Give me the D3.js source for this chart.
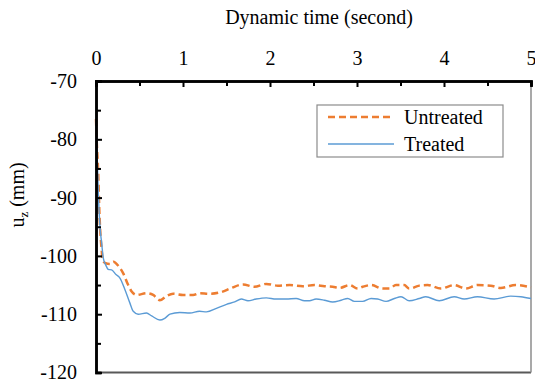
<!DOCTYPE html>
<html>
<head>
<meta charset="utf-8">
<script src="https://cdn.jsdelivr.net/npm/d3@7"></script>
<style>
    body { margin: 0; background: #fff; }
</style>
</head>
<body>
<div id="chart"></div>
<script>
// values
var treatedTime = [0, 0.015, 0.027, 0.046, 0.065, 0.084, 0.11, 0.141, 0.18, 0.23, 0.275, 0.333, 0.39, 0.428, 0.485,
    0.58, 0.64, 0.734, 0.79, 0.85, 0.963, 1.08, 1.19, 1.27, 1.384, 1.5, 1.594, 1.67, 1.747, 1.84, 1.958, 2.07,
    2.187, 2.3, 2.397, 2.454, 2.53, 2.626, 2.72, 2.818, 2.893, 2.97, 3.065, 3.162, 3.237, 3.334, 3.43, 3.506,
    3.6, 3.716, 3.79, 3.945, 4.117, 4.232, 4.384, 4.576, 4.767, 4.882, 5.0];
var treatedUz = [-76.7, -83.6, -89.3, -95.0, -97.8, -100.4, -101.5, -102.3, -102.4, -103.2, -103.8, -105.8, -108.1, -109.5, -110.0,
    -109.8, -110.3, -111.0, -110.7, -110.0, -109.7, -109.8, -109.5, -109.6, -109.0, -108.3, -107.9, -107.4, -107.7, -107.4, -107.2, -107.4,
    -107.4, -107.3, -107.7, -107.7, -107.4, -107.6, -107.9, -107.6, -107.3, -107.8, -107.8, -107.3, -107.4, -107.8, -107.3, -107.0,
    -107.7, -107.3, -107.0, -107.7, -107.0, -107.4, -107.0, -107.4, -106.9, -107.0, -107.3];

var untreatedTime = [0, 0.008, 0.027, 0.038, 0.065, 0.077, 0.103, 0.16, 0.2, 0.256, 0.313, 0.37, 0.41, 0.467, 0.58,
    0.657, 0.734, 0.81, 0.886, 1.0, 1.116, 1.19, 1.307, 1.44, 1.556, 1.69, 1.82, 1.957, 2.09, 2.225, 2.377,
    2.511, 2.626, 2.72, 2.8, 2.913, 3.008, 3.065, 3.162, 3.295, 3.372, 3.448, 3.543, 3.6, 3.716, 3.81, 3.964,
    4.117, 4.251, 4.384, 4.537, 4.652, 4.824, 5.0];
var untreatedUz = [-76.5, -80.1, -86.4, -92.0, -99.0, -100.7, -101.2, -101.4, -101.0, -101.7, -103.0, -105.0, -106.1, -106.7, -106.4,
    -106.7, -107.6, -106.9, -106.5, -106.7, -106.7, -106.4, -106.5, -106.2, -105.5, -104.9, -105.3, -104.8, -105.1, -105.0, -105.2,
    -105.0, -105.2, -105.3, -105.5, -105.0, -105.6, -105.3, -105.0, -105.6, -105.6, -105.0, -105.0, -105.6, -105.1, -105.0, -105.6,
    -105.0, -105.6, -105.0, -105.1, -105.5, -105.0, -105.4];

var xMajor = [0, 1, 2, 3, 4, 5];
var xMinor = [0.5, 1.5, 2.5, 3.5, 4.5];
var yMajor = [-70, -80, -90, -100, -110, -120];
var yMinor = [-75, -85, -95, -105, -115];

var seriesNames = ["Untreated", "Treated"];
var seriesColors = ["#ED7D31", "#5B9BD5"];

var serif = "Liberation Serif, Tinos, Times New Roman, Times, Nimbus Roman, Nimbus Roman No9 L, FreeSerif, Noto Serif, DejaVu Serif, serif";

var chart = {
    w: 535,
    h: 385,
    left: 96,
    right: 531,
    top: 81,
    bottom: 372.5
};

chart.svg = d3.select("#chart")
    .append("svg")
    .attr("width", chart.w)
    .attr("height", chart.h)
    .style("font-family", serif);

chart.xScale = d3.scaleLinear()
    .domain([0, 5])
    .range([chart.left, chart.right]);

chart.yScale = d3.scaleLinear()
    .domain([-70, -120])
    .range([chart.top, chart.bottom]);

// right + bottom frame lines (grey)
chart.svg.append("line")
    .attr("x1", chart.left).attr("x2", chart.right)
    .attr("y1", chart.bottom).attr("y2", chart.bottom)
    .attr("stroke", "#595959").attr("stroke-width", 2);
chart.svg.append("line")
    .attr("x1", chart.right).attr("x2", chart.right)
    .attr("y1", chart.top).attr("y2", chart.bottom)
    .attr("stroke", "#8c8c8c").attr("stroke-width", 1.5);

// data lines
var line = d3.line()
    .x(function (d) { return chart.xScale(d[0]); })
    .y(function (d) { return chart.yScale(d[1]); })
    .curve(d3.curveMonotoneX);

chart.svg.append("path")
    .datum(d3.zip(untreatedTime, untreatedUz))
    .attr("fill", "none")
    .attr("stroke", seriesColors[0])
    .attr("stroke-width", 2.5)
    .attr("stroke-dasharray", "7,4")
    .attr("d", line);

chart.svg.append("path")
    .datum(d3.zip(treatedTime, treatedUz))
    .attr("fill", "none")
    .attr("stroke", seriesColors[1])
    .attr("stroke-width", 1.4)
    .attr("d", line);

// plain hyphen minus like the original, not the unicode minus
function plainNum(d) {
    return String(d);
}

// top x axis, ticks pointing inward
var xAxis = d3.axisTop(chart.xScale)
    .tickValues(xMajor)
    .tickSize(-6)
    .tickPadding(16)
    .tickFormat(plainNum);
var xAxisMinor = d3.axisTop(chart.xScale)
    .tickValues(xMinor)
    .tickSize(-5)
    .tickFormat("");

chart.svg.append("g")
    .attr("transform", "translate(0," + chart.top + ")")
    .call(xAxisMinor);
chart.svg.append("g")
    .attr("class", "x axis")
    .attr("transform", "translate(0," + chart.top + ")")
    .call(xAxis);

// left y axis
var yAxis = d3.axisLeft(chart.yScale)
    .tickValues(yMajor)
    .tickSize(-6)
    .tickPadding(19)
    .tickFormat(plainNum);
var yAxisMinor = d3.axisLeft(chart.yScale)
    .tickValues(yMinor)
    .tickSize(-5)
    .tickFormat("");

chart.svg.append("g")
    .attr("transform", "translate(" + chart.left + ",0)")
    .call(yAxisMinor);
chart.svg.append("g")
    .attr("class", "y axis")
    .attr("transform", "translate(" + chart.left + ",0)")
    .call(yAxis);

chart.svg.selectAll("g")
    .attr("font-family", null);
chart.svg.selectAll(".domain")
    .attr("stroke", "#000")
    .attr("stroke-width", 2.5);
chart.svg.selectAll(".tick line")
    .attr("stroke", "#000")
    .attr("stroke-width", 2);
chart.svg.selectAll(".tick text")
    .attr("font-size", 20)
    .attr("fill", "#000");

// axis titles
chart.svg.append("text")
    .attr("x", 319)
    .attr("y", 24)
    .attr("text-anchor", "middle")
    .attr("font-size", 20)
    .text("Dynamic time (second)");

var yTitle = chart.svg.append("text")
    .attr("transform", "translate(24,195) rotate(-90)")
    .attr("text-anchor", "middle")
    .attr("font-size", 20);
yTitle.append("tspan").text("u");
yTitle.append("tspan").attr("font-size", 13).attr("dy", 4).text("z");
yTitle.append("tspan").attr("dy", -4).text(" (mm)");

// legend
var legend = chart.svg.append("g");
legend.append("rect")
    .attr("x", 317)
    .attr("y", 105)
    .attr("width", 186)
    .attr("height", 52)
    .attr("fill", "#fff")
    .attr("stroke", "#8c8c8c")
    .attr("stroke-width", 1.2);

seriesNames.forEach(function (name, i) {
    var ly = 117 + i * 27;
    legend.append("line")
        .attr("x1", 328).attr("x2", 394)
        .attr("y1", ly).attr("y2", ly)
        .attr("stroke", seriesColors[i])
        .attr("stroke-width", i == 0 ? 2.5 : 1.4)
        .attr("stroke-dasharray", i == 0 ? "7,4" : null);
    legend.append("text")
        .attr("x", 404)
        .attr("y", ly + 7)
        .attr("font-size", 20)
        .text(name);
});
</script>
</body>
</html>
